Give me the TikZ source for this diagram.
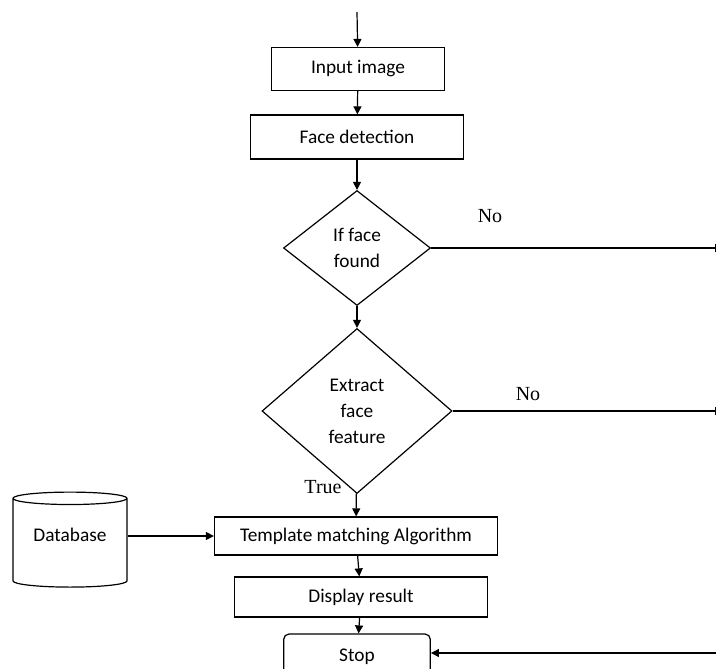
\documentclass[tikz,border=0pt]{standalone}
\usepackage{fontspec}
\setmainfont{Carlito}
\newfontfamily\labelfont{Liberation Serif}
\usetikzlibrary{shapes.geometric, arrows.meta, positioning}

\begin{document}
\begin{tikzpicture}[x=0.75pt, y=-0.75pt, line width=0.9pt,
  box/.style={draw, rectangle, inner sep=0pt, font=\fontsize{14.5}{17}\selectfont},
  decision/.style={draw, diamond, inner sep=0pt, align=center, font=\fontsize{14.5}{19.5}\selectfont},
  arr/.style={-{Triangle[length=6pt,width=6pt]}},
  lbl/.style={font=\labelfont\fontsize{15}{17}\selectfont}]
\useasboundingbox (0,0) rectangle (716,668);
\clip (0,0) rectangle (716,668);

% main column
\coordinate (start) at (357,12);
\node[box, minimum width=129.75pt, minimum height=32.25pt] (input) at (358,69) {Input image};
\node[box, minimum width=159.75pt, minimum height=33pt] (detect) at (357,137) {Face detection};
\node[decision, minimum width=110.25pt, minimum height=86.25pt] (found) at (357,248) {If face\\found};
\node[decision, minimum width=142.5pt, minimum height=123.75pt] (extract) at (357,411) {Extract\\face\\feature};
\node[box, minimum width=212.25pt, minimum height=28.5pt] (match) at (356,536) {Template matching Algorithm};
\node[box, minimum width=189.75pt, minimum height=30pt] (display) at (361,597) {Display result};
\node[box, rounded corners=4pt, minimum width=110pt, minimum height=34.5pt] (stop) at (357,657) {Stop};

% database
\node[draw, cylinder, shape border rotate=90, aspect=0.17, inner sep=0pt,
  minimum width=85.5pt, minimum height=71.25pt, font=\fontsize{14.5}{17}\selectfont] (db) at (70,543) {\smash{\raisebox{1.5pt}{Database}}};

% right side ends
\coordinate (r1) at (723,248);
\coordinate (r2) at (723,411);
\coordinate (r3) at (716,653);

\draw[arr] (start) -- (input);
\draw[arr] (input) -- (detect);
\draw[arr] (detect) -- (found);
\draw[arr] (found) -- (extract);
\draw[arr] (extract) -- (match);
\draw[arr] (db.east |- match.west) -- (match.west);
\draw[arr] (match) -- (display);
\draw[arr] (display) -- (stop);
\draw[arr] (found.east) -- (r1);
\draw[arr] (extract.east) -- (r2);
\draw[arr] (r3) -- (r3 -| stop.east);

\node[lbl] (no1) at (490,216) {No};
\node[lbl] (no2) at (528,394) {No};
\node[lbl] (yes) at (323,487) {True};
\end{tikzpicture}
\end{document}
